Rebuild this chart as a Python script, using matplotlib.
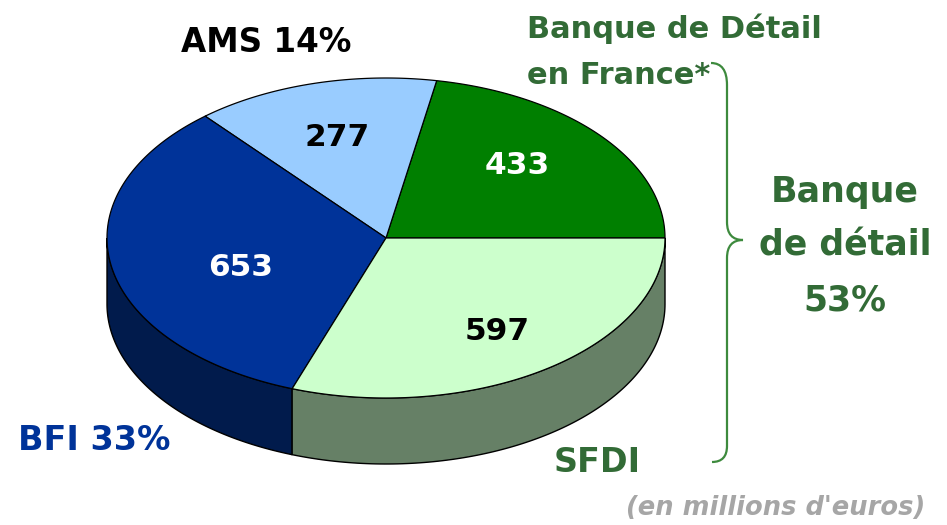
import numpy as np
import matplotlib.pyplot as plt
from matplotlib.path import Path
from matplotlib.patches import PathPatch

# data (millions of euros)
segments = ["Banque de Détail en France", "AMS", "BFI", "SFDI"]
values = [433, 277, 653, 597]
value_labels = ["433", "277", "653", "597"]

top_colors = ["#007F00", "#99CCFF", "#003399", "#CCFFCC"]
side_colors = ["#005000", "#6A8DB0", "#011B4C", "#668066"]
text_colors = ["white", "black", "white", "black"]
value_pos = [(517, 165), (337, 137), (241, 268), (497, 331)]

# pie geometry in pixel coordinates
cx, cy = 386, 238
rx, ry = 279, 160
depth = 66

fig = plt.figure(figsize=(9.47, 5.25), dpi=100)
ax = fig.add_axes([0, 0, 1, 1])
ax.set_xlim(0, 947)
ax.set_ylim(525, 0)
ax.axis("off")


def ell(t):
    return cx + rx * np.cos(t), cy - ry * np.sin(t)


fracs = np.array(values) / np.sum(values)
bounds = np.concatenate([[0], np.cumsum(fracs)]) * 2 * np.pi

# sides (only the front half is visible)
for i in range(len(values)):
    t0, t1 = max(bounds[i], np.pi), min(bounds[i + 1], 2 * np.pi)
    if t1 <= t0:
        continue
    t = np.linspace(t0, t1, 120)
    x, y = ell(t)
    xs = np.concatenate([x, x[::-1]])
    ys = np.concatenate([y, y[::-1] + depth])
    ax.fill(xs, ys, color=side_colors[i], ec="black", lw=1, zorder=1)

# top wedges
for i in range(len(values)):
    t = np.linspace(bounds[i], bounds[i + 1], 200)
    x, y = ell(t)
    xs = np.concatenate([[cx], x, [cx]])
    ys = np.concatenate([[cy], y, [cy]])
    ax.fill(xs, ys, color=top_colors[i], ec="black", lw=0.9, zorder=2)
    ax.text(value_pos[i][0], value_pos[i][1], value_labels[i], color=text_colors[i],
            fontsize=22.5, fontweight="bold", ha="center", va="center", zorder=3)

green = "#326B36"
ax.text(266, 42, "AMS 14%", color="black", fontsize=23.5, fontweight="bold",
        ha="center", va="center")
ax.text(527, 52, "Banque de Détail\nen France*", color=green, fontsize=22,
        fontweight="bold", ha="left", va="center", linespacing=1.75)
ax.text(845, 246, "Banque\nde détail\n53%", color=green, fontsize=25,
        fontweight="bold", ha="center", va="center", linespacing=1.75)
ax.text(18, 440, "BFI 33%", color="#003399", fontsize=24, fontweight="bold",
        ha="left", va="center")
ax.text(597, 462, "SFDI", color=green, fontsize=24, fontweight="bold",
        ha="center", va="center")
ax.text(925, 508, "(en millions d'euros)", color="#A6A6A6", fontsize=18.5,
        fontweight="bold", style="italic", ha="right", va="center")

# brace grouping the retail banking segments
verts = [(711, 63), (727, 63), (727, 85),
         (727, 222),
         (727, 240), (743, 240),
         (727, 240), (727, 258),
         (727, 446),
         (727, 462), (712, 462)]
codes = [Path.MOVETO, Path.CURVE3, Path.CURVE3,
         Path.LINETO,
         Path.CURVE3, Path.CURVE3,
         Path.CURVE3, Path.CURVE3,
         Path.LINETO,
         Path.CURVE3, Path.CURVE3]
ax.add_patch(PathPatch(Path(verts, codes), fc="none", ec="#3D8A3D", lw=1.6))

plt.savefig("out.png", dpi=100)
